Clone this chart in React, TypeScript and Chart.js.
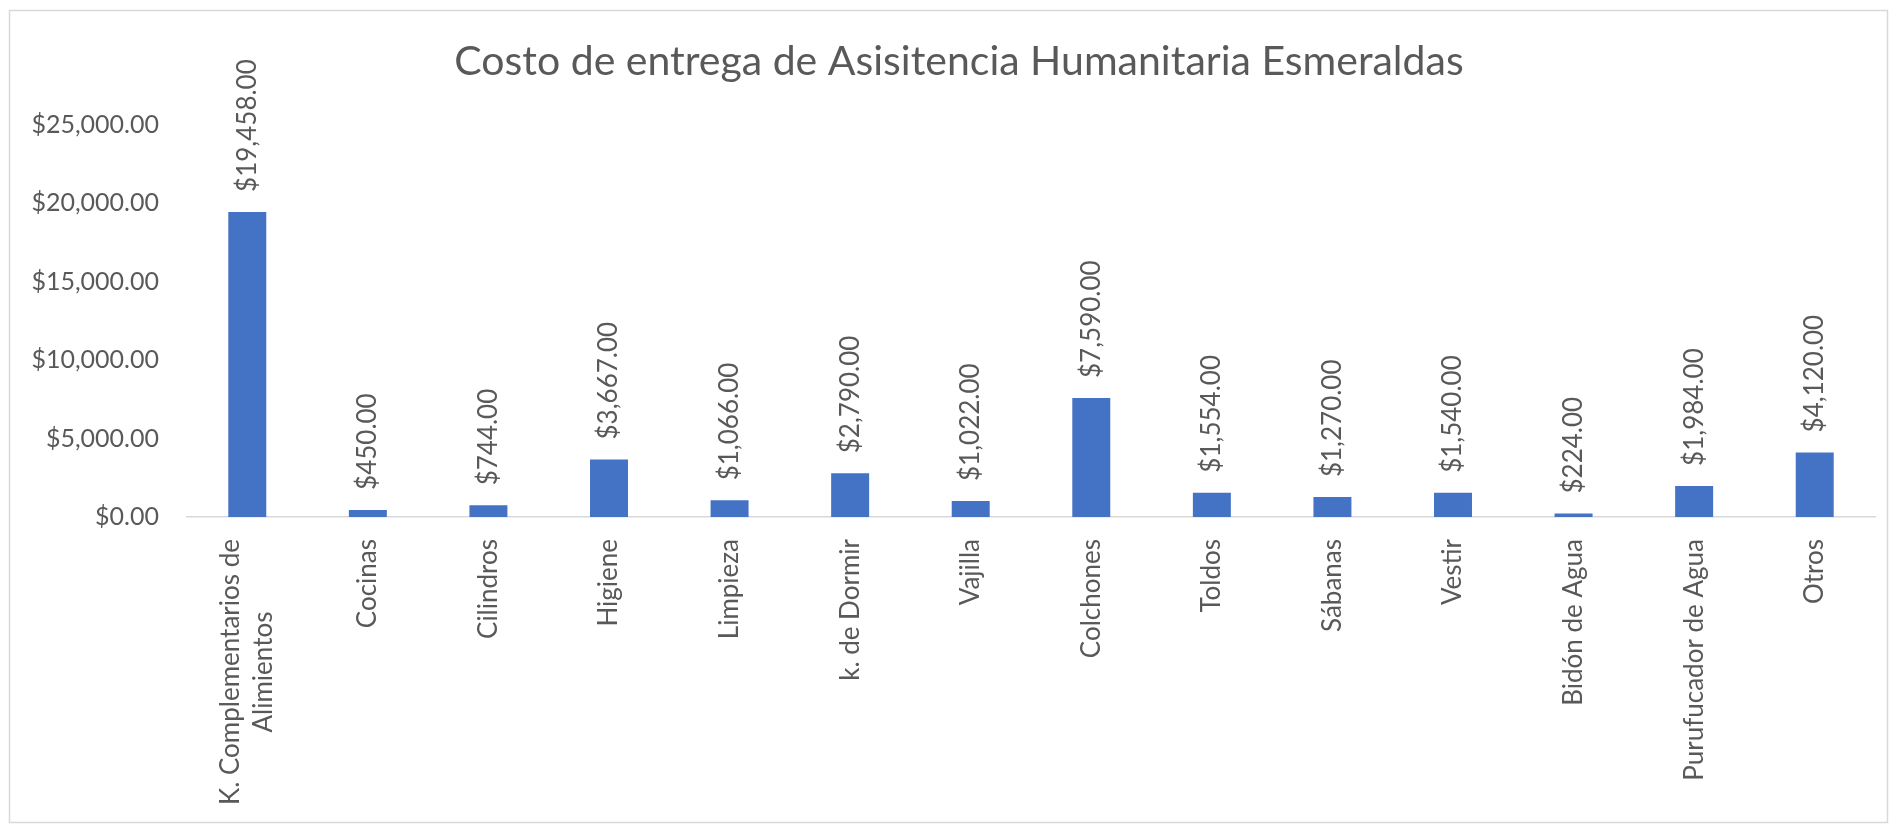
import React, { useEffect, useRef } from "react";
import { Chart, registerables } from "chart.js";

Chart.register(...registerables);

const TITLE = "Costo de entrega de Asisitencia Humanitaria Esmeraldas";
const categories: (string | string[])[] = [
  ["K. Complementarios de", "Alimientos"],
  "Cocinas",
  "Cilindros",
  "Higiene",
  "Limpieza",
  "k. de Dormir",
  "Vajilla",
  "Colchones",
  "Toldos",
  "Sábanas",
  "Vestir",
  "Bidón de Agua",
  "Purufucador de Agua",
  "Otros",
];
const costs = [19458, 450, 744, 3667, 1066, 2790, 1022, 7590, 1554, 1270, 1540, 224, 1984, 4120];
const yMin = 0;
const yMax = 25000;
const yStep = 5000;

const W = 1898;
const H = 828;
const TEXT = "#595959";
const FONT = "Lato";

const money = (v: number) =>
  "$" + v.toLocaleString("en-US", { minimumFractionDigits: 2, maximumFractionDigits: 2 });

const framePlugin = {
  id: "frame",
  beforeDraw(chart: any) {
    const { ctx } = chart;
    ctx.save();
    ctx.fillStyle = "#ffffff";
    ctx.fillRect(0, 0, W, H);
    ctx.strokeStyle = "#d9d9d9";
    ctx.lineWidth = 1.5;
    ctx.strokeRect(9.5, 10.5, W - 20, H - 16);
    ctx.fillStyle = TEXT;
    ctx.font = `41px ${FONT}`;
    ctx.textAlign = "center";
    ctx.textBaseline = "middle";
    ctx.fillText(TITLE, 959, 62);
    ctx.restore();
  },
};

const labelPlugin = {
  id: "barLabels",
  afterDatasetsDraw(chart: any) {
    const { ctx } = chart;
    const meta = chart.getDatasetMeta(0);
    ctx.save();
    ctx.fillStyle = TEXT;
    ctx.font = `26px ${FONT}`;
    ctx.textAlign = "left";
    ctx.textBaseline = "middle";
    meta.data.forEach((bar: any, i: number) => {
      ctx.save();
      ctx.translate(bar.x, bar.y - 20);
      ctx.rotate(-Math.PI / 2);
      ctx.fillText(money(costs[i]), 0, 0);
      ctx.restore();
    });
    ctx.restore();
  },
};

const xLabelPlugin = {
  id: "xLabels",
  afterDraw(chart: any) {
    const { ctx } = chart;
    const xs = chart.scales.x;
    const size = 26;
    const lh = 33;
    ctx.save();
    ctx.fillStyle = TEXT;
    ctx.font = `${size}px ${FONT}`;
    ctx.textAlign = "center";
    ctx.textBaseline = "middle";
    categories.forEach((c, i) => {
      const lines = Array.isArray(c) ? c : [c];
      const maxW = Math.max(...lines.map((l) => ctx.measureText(l).width));
      const x = xs.getPixelForValue(i);
      ctx.save();
      ctx.translate(x, xs.top + 22);
      ctx.rotate(-Math.PI / 2);
      lines.forEach((l, k) => {
        const off = (k - (lines.length - 1) / 2) * lh;
        ctx.fillText(l, -maxW / 2, off);
      });
      ctx.restore();
    });
    ctx.restore();
  },
};

export default function App() {
  const ref = useRef<HTMLCanvasElement | null>(null);
  useEffect(() => {
    document.body.style.margin = "0";
    if (!ref.current) return;
    const chart = new Chart(ref.current, {
      type: "bar",
      data: {
        labels: categories as any,
        datasets: [
          {
            data: costs,
            backgroundColor: "#4472C4",
            borderWidth: 0,
            barPercentage: 1,
            categoryPercentage: 0.315,
          },
        ],
      },
      options: {
        animation: false,
        responsive: false,
        devicePixelRatio: 1,
        layout: { padding: { top: 125, left: 10, right: 23, bottom: 10 } },
        plugins: {
          legend: { display: false },
          tooltip: { enabled: false },
          title: { display: false },
        },
        scales: {
          x: {
            grid: { display: false, drawTicks: false },
            border: { display: true, color: "#d9d9d9", width: 1.5 },
            ticks: { display: false, autoSkip: false },
            afterFit(scale: any) {
              scale.height = 301;
            },
          },
          y: {
            min: yMin,
            max: yMax,
            grid: { display: false, drawTicks: false },
            border: { display: false },
            ticks: {
              stepSize: yStep,
              color: TEXT,
              font: { family: FONT, size: 25 },
              padding: 28,
              callback: (v: any) => money(Number(v)),
            },
            afterFit(scale: any) {
              scale.width = 177;
            },
          },
        },
      },
      plugins: [framePlugin, labelPlugin, xLabelPlugin],
    });
    return () => chart.destroy();
  }, []);
  return (
    <div style={{ width: W, height: H }}>
      <canvas ref={ref} width={W} height={H} style={{ display: "block" }} />
    </div>
  );
}
